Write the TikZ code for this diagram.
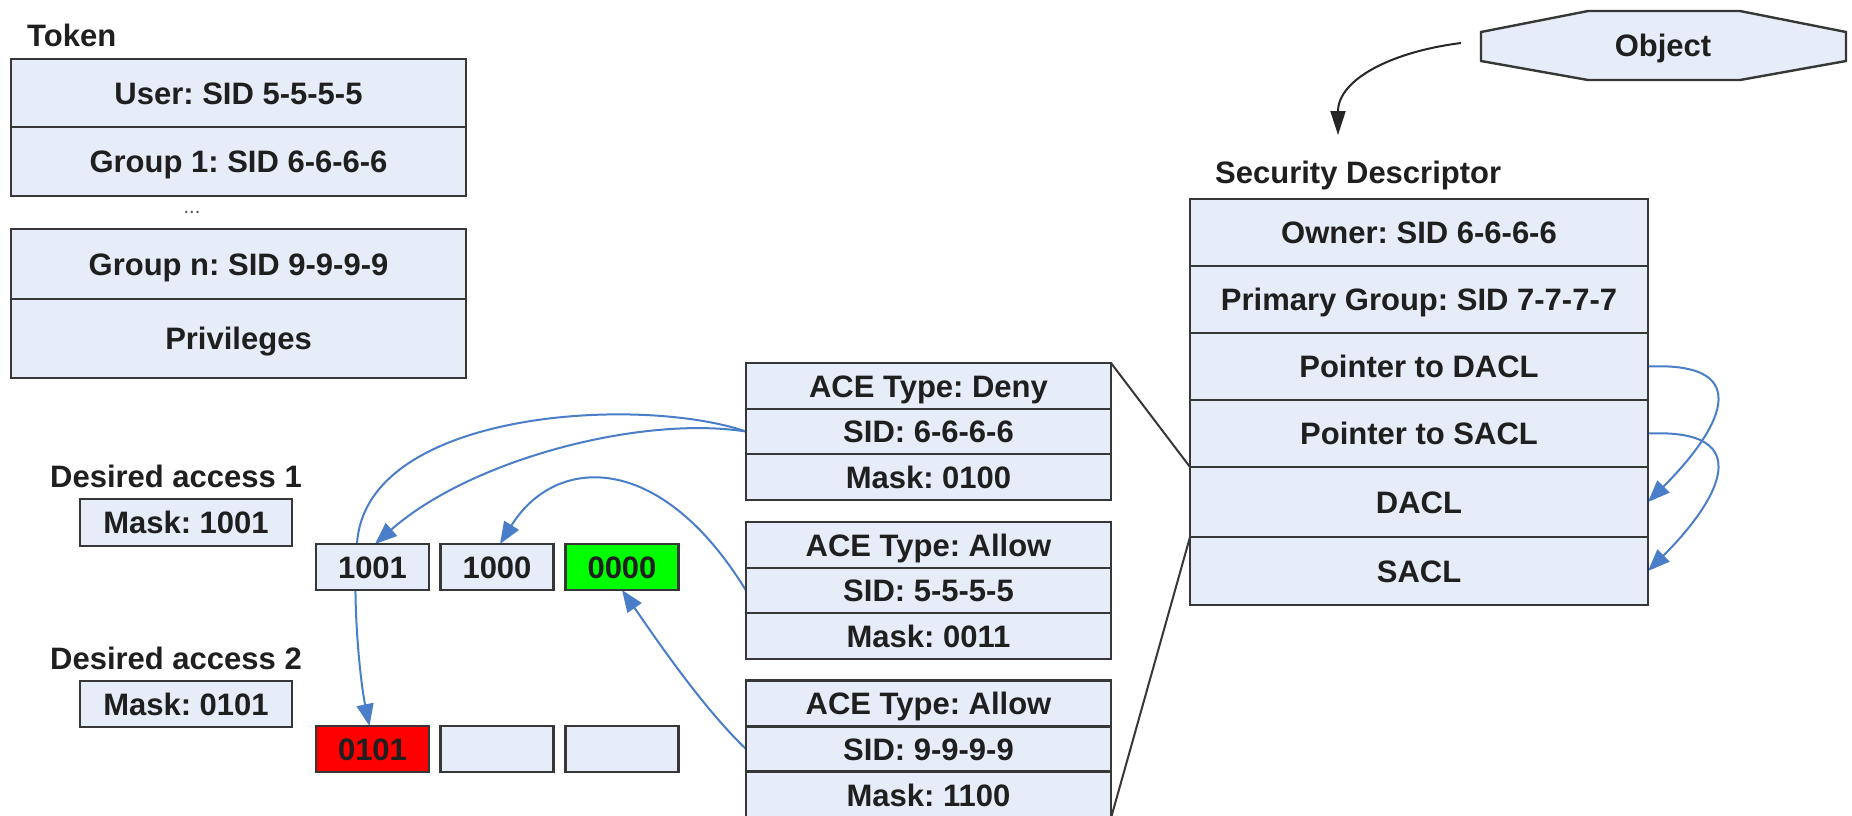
\documentclass[tikz,border=0pt]{standalone}
\usepackage{fontspec}
\setmainfont{Liberation Sans}
\usetikzlibrary{arrows.meta,calc}
\pgfdeclarelayer{background}
\pgfsetlayers{background,main}
\definecolor{cellfill}{RGB}{230,236,248}
\definecolor{celledge}{RGB}{55,55,55}
\definecolor{linkblue}{RGB}{74,126,200}
\definecolor{okgreen}{RGB}{0,255,0}
\definecolor{denyred}{RGB}{255,0,0}
\frenchspacing

\begin{document}
\begin{tikzpicture}[x=1pt,y=-1pt,
  txt/.style={font=\bfseries\fontsize{31}{36}\selectfont, text=black!88,
    text height=22pt, text depth=0pt, inner sep=0pt},
  cell/.style={txt, draw=celledge, line width=2.4pt, fill=cellfill,
    outer sep=0pt, minimum height=#1},
  tokcell/.style={cell=#1, minimum width=455pt},
  acecell/.style={cell=#1, minimum width=365pt},
  sdcell/.style={cell=#1, minimum width=458pt},
  maskcell/.style={cell=#1, minimum width=212pt},
  bitcell/.style={cell=46pt, minimum width=113pt},
  edge/.style={draw=celledge, line width=2pt},
  bluearrow/.style={draw=linkblue, line width=2pt,
    -{Triangle[length=22pt,width=17pt]}},
  blackarrow/.style={draw=black!85, line width=2pt,
    -{Triangle[length=24pt,width=15pt]}}
]
\useasboundingbox (0,0) rectangle (1852,815);

% Token
\node[txt, anchor=west] (toklbl) at (27,35) {Token};
\node[tokcell=68pt] (tuser) at (238.5,93) {User: SID 5-5-5-5};
\node[tokcell=69pt] (tg1) at (238.5,161.5) {Group 1: SID 6-6-6-6};
\node[font=\fontsize{20}{22}\selectfont, text=black!70, inner sep=0pt] (tdots) at (192,212) {...};
\node[tokcell=70pt] (tgn) at (238.5,264) {Group n: SID 9-9-9-9};
\node[tokcell=79pt] (tpriv) at (238.5,338.5) {Privileges};

% Desired access masks and the results of the ACE checks
\node[txt, anchor=west] (da1) at (50,476) {Desired access 1};
\node[maskcell=47pt] (m1) at (186,522.5) {Mask: 1001};
\node[txt, anchor=west] (da2) at (50,658) {Desired access 2};
\node[maskcell=46pt] (m2) at (186,704) {Mask: 0101};

\node[bitcell] (a1) at (372.5,567) {1001};
\node[bitcell] (b1) at (497,567) {1000};
\node[bitcell, fill=okgreen] (c1) at (622,567) {0000};
\node[bitcell, fill=denyred] (r1) at (372.5,749) {0101};
\node[bitcell] (r2) at (497,749) {};
\node[bitcell] (r3) at (622,749) {};

% ACEs
\node[acecell=46pt] (ace1h) at (928.5,386) {ACE Type: Deny};
\node[acecell=45pt] (ace1s) at (928.5,431.5) {SID: 6-6-6-6};
\node[acecell=46pt] (ace1m) at (928.5,477) {Mask: 0100};

\node[acecell=46pt] (ace2h) at (928.5,545) {ACE Type: Allow};
\node[acecell=45pt] (ace2s) at (928.5,590.5) {SID: 5-5-5-5};
\node[acecell=46pt] (ace2m) at (928.5,636) {Mask: 0011};

\node[acecell=46pt] (ace3h) at (928.5,703.5) {ACE Type: Allow};
\node[acecell=45pt] (ace3s) at (928.5,749) {SID: 9-9-9-9};
\node[acecell=46pt] (ace3m) at (928.5,795) {Mask: 1100};

% Security descriptor
\node[txt, anchor=west] (sdlbl) at (1215,172) {Security Descriptor};
\node[sdcell=67pt] (sdown) at (1419,232.5) {Owner: SID 6-6-6-6};
\node[sdcell=67pt] (sdgrp) at (1419,299.5) {Primary Group: SID 7-7-7-7};
\node[sdcell=67pt] (sdpd) at (1419,366.5) {Pointer to DACL};
\node[sdcell=67pt] (sdps) at (1419,433.5) {Pointer to SACL};
\node[sdcell=70pt] (sddacl) at (1419,502) {DACL};
\node[sdcell=68pt] (sdsacl) at (1419,571) {SACL};

% Object
\draw[draw=celledge, line width=2.4pt, fill=cellfill]
  (1481,32) -- (1588,11) -- (1740,11) -- (1846,32) -- (1846,61)
  -- (1740,80) -- (1588,80) -- (1481,61) -- cycle;
\node[txt] (obj) at (1663,45.5) {Object};
\coordinate (sdin) at (1338,135);

\begin{pgfonlayer}{background}
  \fill[white] (0,0) rectangle (1852,815);

  % object to its security descriptor
  \draw[blackarrow] (1461,43) .. controls (1390,52) and (1338,80) .. (sdin);

  % DACL and its ACEs
  \draw[edge] (ace1h.north east) -- (sddacl.north west);
  \draw[edge] (ace3m.south east) -- (sdsacl.north west);

  % pointers inside the security descriptor
  \draw[bluearrow] (sdpd.east) .. controls +(112,-5) and +(70,-70) .. (sddacl.east);
  \draw[bluearrow] (sdps.east) .. controls +(112,-5) and +(70,-70) .. (sdsacl.east);

  % ACE checks
  \draw[bluearrow] (ace1s.west) .. controls (640,395) and (365,410)
    .. ($(a1.north)+(-15.5,0)$) .. controls (352,600) and (360,680)
    .. ($(r1.north)+(-3,0)$);
  \draw[bluearrow] (ace1s.west) .. controls (640,415) and (470,460)
    .. ($(a1.north)+(2.5,0)$);
  \draw[bluearrow] (ace2s.west) .. controls (660,450) and (555,455)
    .. ($(b1.north)+(3,0)$);
  \draw[bluearrow] (ace3s.west) .. controls (700,705) and (650,630)
    .. (c1.south);
\end{pgfonlayer}
\end{tikzpicture}
\end{document}
